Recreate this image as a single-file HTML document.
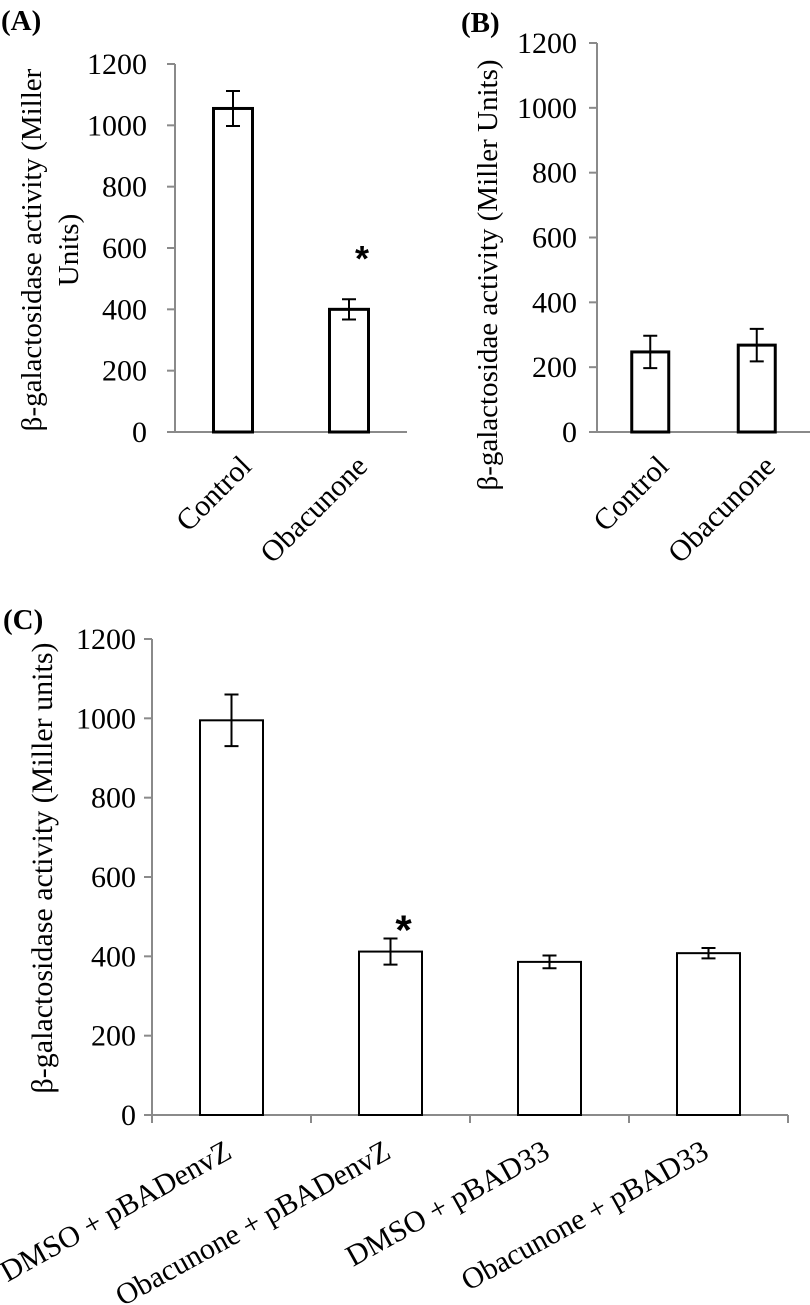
<!DOCTYPE html>
<html><head><meta charset="utf-8"><style>
body{margin:0;background:#fff}
svg{display:block;font-family:"Liberation Serif",serif}
</style></head><body>
<svg id="fig" width="810" height="1305" viewBox="0 0 810 1305">
<text x="1" y="30" font-size="29" font-weight="bold">(A)</text>
<text x="461" y="32" font-size="29" font-weight="bold">(B)</text>
<text x="3" y="629" font-size="29" font-weight="bold">(C)</text>
<text transform="translate(41,250) rotate(-90)" text-anchor="middle" font-size="29">β-galactosidase activity (Miller</text>
<text transform="translate(78,250) rotate(-90)" text-anchor="middle" font-size="29">Units)</text>
<text transform="translate(497,275) rotate(-90)" text-anchor="middle" font-size="29">β-galactosidae activity (Miller Units)</text>
<text transform="translate(52,868) rotate(-90)" text-anchor="middle" font-size="30">β-galactosidase activity (Miller units)</text>
</svg>
<script>
const ticks = [0,200,400,600,800,1000,1200];
const catsA = ["Control","Obacunone"];
const valsA = [1055,400];
const errA = [57,33];
const catsB = ["Control","Obacunone"];
const valsB = [247,268];
const errB = [50,50];
const catsC = ["DMSO + pBADenvZ","Obacunone + pBADenvZ","DMSO + pBAD33","Obacunone + pBAD33"];
const valsC = [995,412,386,408];
const errC = [65,33,16,13];
const starA = [false,true];
const starC = [false,true,false,false];

const svg = document.getElementById('fig');
const NS = 'http://www.w3.org/2000/svg';
function mk(tag, attrs){const e=document.createElementNS(NS,tag);for(const k in attrs)e.setAttribute(k,attrs[k]);svg.appendChild(e);return e;}

function chart(p, cats, vals, errs, stars){
  const y = v => p.y0 - (v/1200)*(p.y0-p.y1);
  const band = (p.x1-p.x0)/cats.length;
  const xc = i => p.x0 + band*(i+0.5);
  let ax = mk('line',{x1:p.x0,y1:p.y1,x2:p.x0,y2:p.y0,stroke:'#8a8a8a','stroke-width':2});
  
  
  let bx = mk('line',{x1:p.x0-8,y1:p.y0,x2:p.x1,y2:p.y0,stroke:'#8a8a8a','stroke-width':2});
  
  
  ticks.forEach(t=>{
    const tl = mk('line',{x1:p.x0-8,y1:y(t),x2:p.x0,y2:y(t),stroke:'#8a8a8a','stroke-width':2});
    
    
    const tx = mk('text',{x:p.x0-p.tgap,y:y(t)+10,'text-anchor':'end','font-size':p.fs});
    tx.textContent = t;
    
    
  });
  if(p.xticks){
    for(let i=0;i<=cats.length;i++){
      const xt = p.x0+band*i;
      const l = mk('line',{x1:xt,y1:p.y0,x2:xt,y2:p.y0+8,stroke:'#8a8a8a','stroke-width':2});
      
      
    }
  }
  cats.forEach((c,i)=>{
    const cx = xc(i);
    const r = mk('rect',{x:cx-p.bw/2,y:y(vals[i]),width:p.bw,height:p.y0-y(vals[i]),fill:'#fff',stroke:'#000','stroke-width':p.sw});
    
    
    const top=y(vals[i]+errs[i]), bot=y(vals[i]-errs[i]);
    const e = mk('path',{d:`M${cx},${top}V${bot}M${cx-7},${top}H${cx+7}M${cx-7},${bot}H${cx+7}`,stroke:'#000','stroke-width':2,fill:'none'});
    
    
    if(stars && stars[i]){
      const s = mk('text',{x:cx+p.starDx,y:top-p.starDy,'text-anchor':'middle','font-size':p.starFs,'font-weight':'bold','font-family':'Liberation Sans, sans-serif'});
      s.textContent='*';
      
      
    }
    const lx = cx+p.ldx, ly = p.y0+p.ldy;
    const t = mk('text',{transform:`translate(${lx},${ly}) rotate(${p.rot})`,'text-anchor':'end','font-size':p.lfs});
    t.textContent = c;
    
    
  });
}
chart({id:'panel-a',x0:175,x1:407,y0:432,y1:64,bw:39,sw:3,fs:30,lfs:30,tgap:28,rot:-45,ldx:20,ldy:36,starDx:13,starDy:28,starFs:36},catsA,valsA,errA,starA);
chart({id:'panel-b',x0:597,x1:810,y0:432,y1:43,bw:37,sw:3,fs:30,lfs:30,tgap:20,rot:-45,ldx:20,ldy:36,starDx:0,starDy:10,starFs:30},catsB,valsB,errB,null);
chart({id:'panel-c',x0:152,x1:788,y0:1115,y1:639,bw:63,sw:2,fs:30,lfs:30,tgap:16,rot:-29,ldx:2,ldy:42,starDx:13,starDy:-6,starFs:42,xticks:true},catsC,valsC,errC,starC);
</script>
</body></html>
